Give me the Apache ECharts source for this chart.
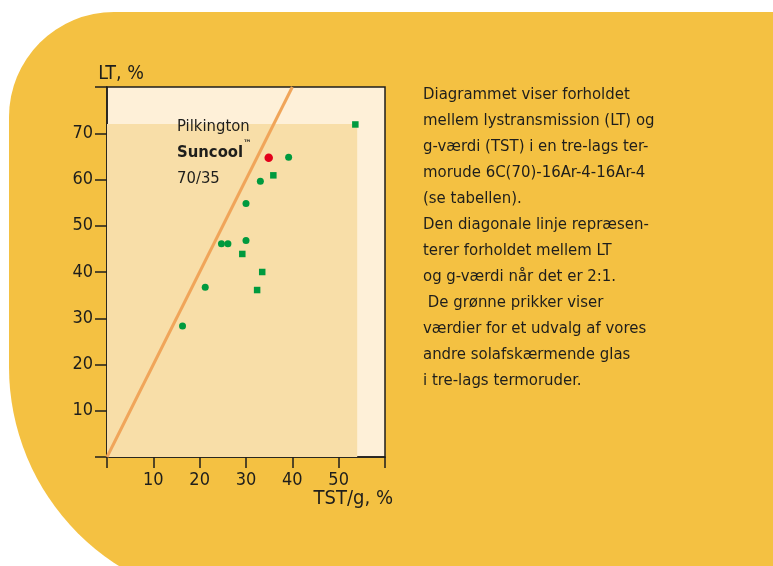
<!DOCTYPE html>
<html>
<head>
<meta charset="utf-8">
<script src="https://cdn.jsdelivr.net/npm/echarts@6/dist/echarts.min.js"></script>
<style>
html,body{margin:0;padding:0;background:#ffffff;}
#chart{width:773px;height:566px;}
</style>
</head>
<body>
<div id="chart"></div>
<script>
// ---- data ----
const xTickLabels = [10, 20, 30, 40, 50];
const yTickLabels = [10, 20, 30, 40, 50, 60, 70];
const xRange = [0, 60];
const yRange = [0, 80];
// 2:1 ratio line (LT = 2 x TST)
const ratioLine = [[0, 0], [40, 80]];
// shaded region corner (TST, LT)
const shadedCorner = [54, 72];
// other solar-control glasses (circles)
const greenCircles = [[39.2, 64.8], [33.1, 59.6], [30.0, 54.8], [24.7, 46.1], [26.1, 46.1], [30.0, 46.8], [21.2, 36.7], [16.3, 28.3]];
// other solar-control glasses (squares)
const greenSquares = [[53.6, 71.9], [35.9, 60.9], [29.2, 43.9], [33.5, 40.0], [32.4, 36.1]];
// Pilkington Suncool 70/35
const suncool = [[34.9, 64.7]];
const descLines = [
  'Diagrammet viser forholdet',
  'mellem lystransmission (LT) og',
  'g-værdi (TST) i en tre-lags ter-',
  'morude 6C(70)-16Ar-4-16Ar-4',
  '(se tabellen).',
  'Den diagonale linje repræsen-',
  'terer forholdet mellem LT',
  'og g-værdi når det er 2:1.',
  ' De grønne prikker viser',
  'værdier for et udvalg af vores',
  'andre solafskærmende glas',
  'i tre-lags termoruder.'
];

const FONT = "'DejaVu Sans Condensed', 'DejaVu Sans', sans-serif";
const INK = '#1e1e1c';

const chart = echarts.init(document.getElementById('chart'), null, {renderer: 'canvas'});
chart.setOption({
  animation: false,
  backgroundColor: 'transparent',
  textStyle: {fontFamily: FONT},
  graphic: [
    {
      type: 'rect', z: -100, silent: true,
      shape: {x: 9, y: 12, width: 820, height: 590, r: [105, 0, 0, 235]},
      style: {fill: '#F4C142'}
    },
    {
      type: 'text', z: 100, left: 423, top: 82,
      style: {
        text: descLines.join('\n'),
        font: '16.6px ' + FONT,
        lineHeight: 26,
        fill: INK
      }
    },
    {
      type: 'text', z: 100, left: 177, top: 118,
      style: {
        text: '{n|Pilkington}\n{b|Suncool}{tm|™}\n{n|70/35}',
        fill: INK,
        rich: {
          n: {fontSize: 16.5, fontFamily: FONT, lineHeight: 26, fill: INK},
          b: {fontSize: 16.5, fontFamily: FONT, fontWeight: 'bold', lineHeight: 26, fill: INK},
          tm: {fontSize: 9, fontFamily: FONT, fontWeight: 'bold', lineHeight: 26, verticalAlign: 'top', padding: [0, 0, 10, 0], fill: INK}
        }
      }
    }
  ],
  grid: {
    left: 107, top: 87, right: 388, bottom: 109,
    show: true, backgroundColor: '#FEF0D8',
    borderColor: INK, borderWidth: 1.5
  },
  xAxis: {
    type: 'value', min: xRange[0], max: xRange[1], interval: 10,
    name: 'TST/g, %', nameLocation: 'end', nameGap: 8,
    nameTextStyle: {fontSize: 20, color: INK, align: 'right', verticalAlign: 'top', padding: [32, 0, 0, 0], fontFamily: FONT},
    axisLine: {show: true, lineStyle: {color: INK, width: 1.5}},
    axisTick: {show: true, length: 11, lineStyle: {color: INK, width: 1.5}},
    axisLabel: {
      margin: 14, fontSize: 18, color: INK, fontFamily: FONT,
      formatter: v => xTickLabels.includes(v) ? String(v) : ''
    },
    splitLine: {show: false}
  },
  yAxis: {
    type: 'value', min: yRange[0], max: yRange[1], interval: 10,
    name: 'LT, %', nameLocation: 'end', nameGap: 3,
    nameTextStyle: {fontSize: 19.5, color: INK, align: 'center', padding: [0, 0, 0, 28], fontFamily: FONT},
    axisLine: {show: true, lineStyle: {color: INK, width: 1.5}},
    axisTick: {show: true, length: 12, lineStyle: {color: INK, width: 1.5}},
    axisLabel: {
      margin: 14, fontSize: 18, color: INK, fontFamily: FONT,
      formatter: v => yTickLabels.includes(v) ? String(v) : ''
    },
    splitLine: {show: false}
  },
  series: [
    {
      type: 'line', z: 1, data: [], silent: true,
      markArea: {
        silent: true,
        itemStyle: {color: '#F8DEA8', opacity: 1},
        data: [[{coord: [xRange[0], yRange[0]]}, {coord: shadedCorner}]]
      }
    },
    {
      type: 'line', z: 3, data: ratioLine, showSymbol: false, silent: true,
      lineStyle: {color: '#F0A55A', width: 3}
    },
    {
      type: 'scatter', z: 5, data: greenCircles, symbol: 'circle', symbolSize: 7,
      itemStyle: {color: '#009A3E', opacity: 1}
    },
    {
      type: 'scatter', z: 5, data: greenSquares, symbol: 'rect', symbolSize: 6.5,
      itemStyle: {color: '#009A3E', opacity: 1}
    },
    {
      type: 'scatter', z: 6, data: suncool, symbol: 'circle', symbolSize: 8.5,
      itemStyle: {color: '#E3001B', opacity: 1}
    }
  ]
});
</script>
</body>
</html>
